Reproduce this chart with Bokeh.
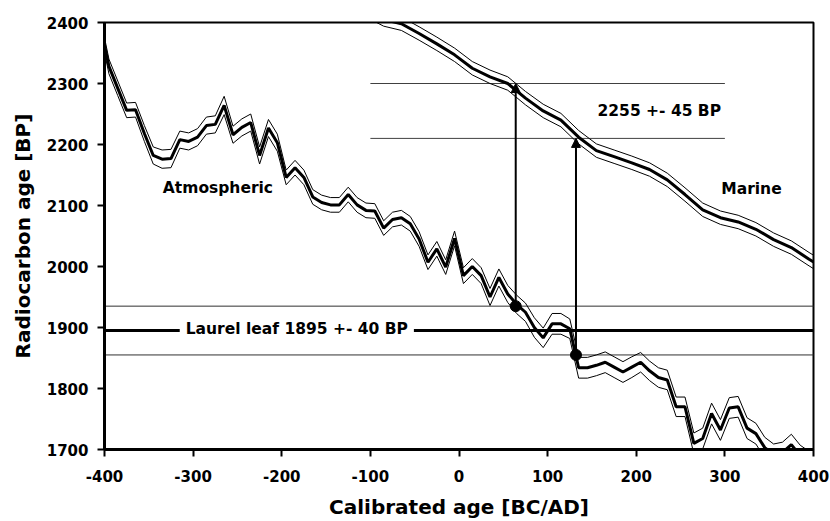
from bokeh.plotting import figure
from bokeh.models import Range1d, FixedTicker, Label, Arrow, NormalHead
from bokeh.embed import file_html
from bokeh.resources import INLINE

# ---------------- data ----------------
x_ticks = [-400, -300, -200, -100, 0, 100, 200, 300, 400]
y_ticks = [1700, 1800, 1900, 2000, 2100, 2200, 2300, 2400]

# Atmospheric calibration curve (decadal), centre and 1-sigma
atm_x = list(range(-405, 400, 10))
atm_c = [2398, 2328, 2292, 2256, 2257, 2218, 2182, 2176, 2177, 2208,
         2205, 2212, 2231, 2233, 2264, 2216, 2228, 2236, 2182, 2227,
         2203, 2146, 2162, 2146, 2114, 2105, 2101, 2101, 2118, 2101,
         2092, 2091, 2063, 2077, 2080, 2070, 2045, 2007, 2029, 1999,
         2046, 1985, 2000, 1985, 1950, 1982, 1955, 1938, 1925, 1900,
         1883, 1906, 1906, 1898, 1834, 1834, 1838, 1843, 1835, 1827,
         1835, 1843, 1829, 1818, 1814, 1770, 1770, 1710, 1718, 1759,
         1732, 1768, 1770, 1735, 1726, 1703, 1692, 1695, 1708, 1690,
         1680]
atm_e = [12, 12, 12, 12, 12, 13, 14, 15, 15, 14,
         14, 14, 14, 14, 15, 14, 14, 14, 14, 14,
         14, 12, 12, 12, 12, 12, 12, 12, 12, 12,
         12, 12, 12, 12, 12, 12, 12, 12, 12, 12,
         12, 13, 13, 13, 14, 14, 14, 15, 15, 16,
         16, 17, 17, 16, 17, 17, 17, 17, 17, 17,
         17, 16, 16, 16, 16, 16, 16, 17, 17, 17,
         17, 17, 17, 17, 17, 17, 17, 17, 17, 17,
         17]

# Marine calibration curve, centre and 1-sigma
mar_x = [-105, -85, -65, -45, -25, -5, 15, 35, 55, 75, 95, 115, 135, 155,
         175, 195, 215, 235, 255, 275, 295, 315, 335, 355, 375, 395, 405]
mar_c = [2420, 2405, 2398, 2382, 2365, 2347, 2325, 2311, 2300, 2276, 2255,
         2240, 2212, 2190, 2180, 2170, 2159, 2142, 2118, 2093, 2080, 2073,
         2061, 2044, 2031, 2012, 2003]
mar_e = [11] * len(mar_x)

# Measurements
leaf_age, leaf_err = 1895, 40
marine_age, marine_err = 2255, 45
cal_points = [64, 132]          # calibrated intercepts [BC/AD]

# ---------------- figure ----------------
FONT = "DejaVu Sans"
p = figure(width=830, height=521,
           x_range=Range1d(-400, 400), y_range=Range1d(1700, 2400),
           output_backend="svg", toolbar_location=None,
           min_border_left=104, min_border_right=17,
           min_border_top=22, min_border_bottom=72)
p.xgrid.visible = False
p.ygrid.visible = False
p.background_fill_color = "white"
p.border_fill_color = "white"
p.outline_line_color = "black"
p.outline_line_width = 2
p.outline_line_alpha = 1

p.xaxis.ticker = FixedTicker(ticks=x_ticks)
p.yaxis.ticker = FixedTicker(ticks=y_ticks)
p.xaxis.major_label_overrides = {t: str(t) for t in x_ticks}
p.yaxis.major_label_overrides = {t: str(t) for t in y_ticks}
for ax in (p.xaxis, p.yaxis):
    ax.axis_line_width = 3
    ax.axis_line_color = "black"
    ax.major_tick_line_width = 2
    ax.major_tick_line_color = "black"
    ax.major_tick_out = 7
    ax.major_tick_in = 0
    ax.minor_tick_line_color = None
    ax.major_label_text_font = FONT
    ax.major_label_text_font_style = "bold"
    ax.major_label_text_font_size = "15px"
    ax.major_label_text_color = "black"
    ax.axis_label_text_font = FONT
    ax.axis_label_text_font_style = "bold"
    ax.axis_label_text_font_size = "20px"
    ax.axis_label_text_color = "black"

p.xaxis.axis_label = "Calibrated age [BC/AD]"
p.yaxis.axis_label = "Radiocarbon age [BP]"
p.xaxis.major_label_standoff = 13
p.xaxis.axis_label_standoff = 10
p.yaxis.major_label_standoff = 9
p.yaxis.axis_label_standoff = 9

# reference lines: laurel leaf measurement
p.line([-405, 405], [leaf_age + leaf_err] * 2, line_color="#303030", line_width=1)
p.line([-405, 405], [leaf_age - leaf_err] * 2, line_color="#303030", line_width=1)
p.line([-405, 405], [leaf_age] * 2, line_color="black", line_width=3)
# reference lines: marine result
p.line([-100, 300], [marine_age + marine_err] * 2, line_color="#404040", line_width=1)
p.line([-100, 300], [marine_age - marine_err] * 2, line_color="#404040", line_width=1)

# atmospheric curve
p.line(atm_x, [c + e for c, e in zip(atm_c, atm_e)], line_color="black", line_width=1)
p.line(atm_x, [c - e for c, e in zip(atm_c, atm_e)], line_color="black", line_width=1)
p.line(atm_x, atm_c, line_color="black", line_width=3)

# marine curve
p.line(mar_x, [c + e for c, e in zip(mar_c, mar_e)], line_color="black", line_width=1)
p.line(mar_x, [c - e for c, e in zip(mar_c, mar_e)], line_color="black", line_width=1)
p.line(mar_x, mar_c, line_color="black", line_width=3)

# arrows from atmospheric intercepts to marine band
y_from = [leaf_age + leaf_err, leaf_age - leaf_err]
y_to = [marine_age + marine_err, marine_age - marine_err]
for cx, y0, y1 in zip(cal_points, y_from, y_to):
    p.add_layout(Arrow(end=NormalHead(size=9, fill_color="black", line_color="black"),
                       x_start=cx, y_start=y0, x_end=cx, y_end=y1,
                       line_color="black", line_width=2))
p.scatter(cal_points, y_from, size=11, fill_color="black", line_color="black")

# text labels
def lab(x, y, t, bg=None):
    kw = {}
    if bg:
        kw = dict(background_fill_color=bg, padding=6)
    p.add_layout(Label(x=x, y=y, text=t, text_font=FONT, text_font_style="bold",
                       text_font_size="15.5px", text_color="black",
                       text_align="center", text_baseline="middle", **kw))

lab(-272, 2128, "Atmospheric")
lab(330, 2127, "Marine")
lab(226, 2255, "2255 +- 45 BP")
lab(-183, 1897, "Laurel leaf 1895 +- 40 BP", bg="white")

open("out.html", "w").write(file_html(p, INLINE))
